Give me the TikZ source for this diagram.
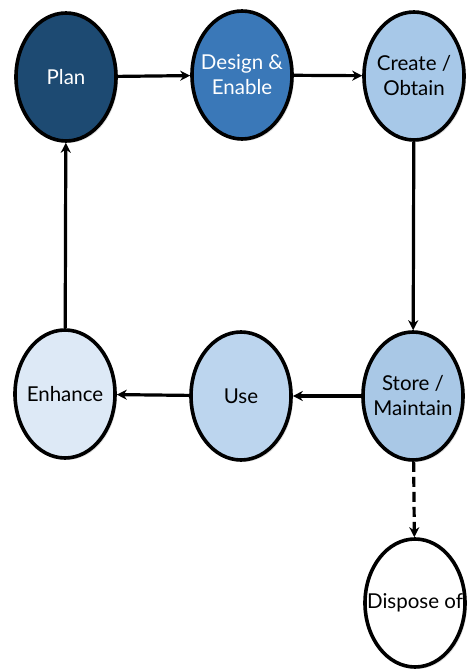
\documentclass[tikz,border=0pt]{standalone}
\usepackage{fontspec}
\setmainfont{Lato}
\usetikzlibrary{shapes.geometric,arrows.meta,shadows}
\definecolor{cplan}{HTML}{1D4A72}
\definecolor{cdesign}{HTML}{3A78B8}
\definecolor{ccreate}{HTML}{A7C8E8}
\definecolor{cstore}{HTML}{A9C8E6}
\definecolor{cuse}{HTML}{BCD5EE}
\definecolor{cenh}{HTML}{DDE9F6}
\newcommand{\zline}[1]{\makebox[0pt][c]{#1}}
\tikzset{
  phase/.style={ellipse, draw=black, line width=3.6pt, inner sep=0pt,
    minimum width=100pt, minimum height=128pt, align=center,
    font=\fontsize{20.5}{25}\selectfont,
    drop shadow={shadow xshift=2pt, shadow yshift=-2pt, opacity=0.25}},
  flow/.style={line width=3.2pt, -{Stealth[length=10pt,width=10pt]}},
}
\begin{document}
\begin{tikzpicture}[x=1pt,y=1pt]
\useasboundingbox (0,0) rectangle (468,670);
\node[phase, fill=cplan, text=white] (plan) at (66,593) {\zline{Plan}};
\node[phase, fill=cdesign, text=white] (design) at (242,595) {\zline{Design \&}\\\zline{Enable}};
\node[phase, fill=ccreate] (create) at (414,594) {\zline{Create /}\\\zline{Obtain}};
\node[phase, fill=cstore] (store) at (413,274) {\zline{Store /}\\\zline{Maintain}};
\node[phase, fill=cuse] (use) at (241,274) {\zline{Use}};
\node[phase, fill=cenh] (enh) at (65,276) {\zline{Enhance}};
\node[phase, fill=white] (disp) at (415,67) {\zline{Dispose of}};
\draw[flow] (plan) -- (design);
\draw[flow] (design) -- (create);
\draw[flow] (create) -- (store);
\draw[flow] (store) -- (use);
\draw[flow] (use) -- (enh);
\draw[flow] (enh) -- (plan);
\draw[flow, dash pattern=on 10pt off 5pt] (store) -- (disp);
\end{tikzpicture}
\end{document}
